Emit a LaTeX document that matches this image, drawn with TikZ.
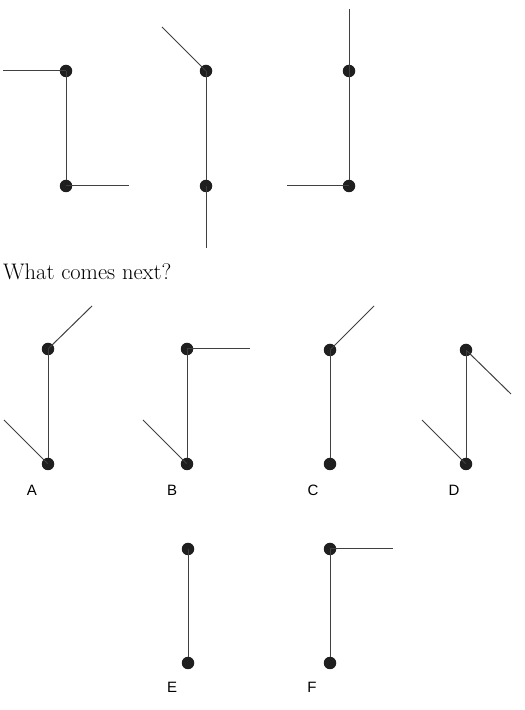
\documentclass[tikz,border=0pt]{standalone}
\usepackage{fontspec}
\newfontfamily\labelfont{Liberation Sans}
\usetikzlibrary{positioning}

\begin{document}
\begin{tikzpicture}[line join=bevel,
  pt/.style={circle,fill=black!88,inner sep=0pt,minimum size=12.5bp},
  stick/.style={draw=black!75,line width=1bp,shorten <=-6bp,shorten >=0bp},
  tag/.style={font=\labelfont\fontsize{15bp}{18bp}\selectfont,anchor=center}]
\useasboundingbox (0bp,0bp) rectangle (525bp,710bp);

% Series: first figure
\node[pt] (s1t) at (66bp,639bp) {};
\node[pt] (s1b) at (66bp,524bp) {};
\coordinate (s1l) at (3bp,639bp);
\coordinate (s1r) at (129bp,524bp);
\draw[stick] (s1t) -- (s1b);
\draw[stick] (s1t) -- (s1l);
\draw[stick] (s1b) -- (s1r);

% Series: second figure
\node[pt] (s2t) at (206bp,639bp) {};
\node[pt] (s2b) at (206bp,524bp) {};
\coordinate (s2d) at (162bp,683bp);
\coordinate (s2e) at (206bp,462bp);
\draw[stick] (s2t) -- (s2b);
\draw[stick] (s2t) -- (s2d);
\draw[stick] (s2b) -- (s2e);

% Series: third figure
\node[pt] (s3t) at (349bp,639bp) {};
\node[pt] (s3b) at (349bp,524bp) {};
\coordinate (s3u) at (349bp,701bp);
\coordinate (s3l) at (287bp,524bp);
\draw[stick] (s3t) -- (s3b);
\draw[stick] (s3t) -- (s3u);
\draw[stick] (s3b) -- (s3l);

\node[anchor=base west,inner sep=0pt,font=\fontsize{22.5bp}{26bp}\selectfont] (ask) at (3bp,430bp) {What comes next?};

% Option: A
\node[pt] (at) at (48bp,361bp) {};
\node[pt] (ab) at (48bp,246bp) {};
\coordinate (au) at (92bp,404bp);
\coordinate (al) at (4bp,290bp);
\draw[stick] (at) -- (ab);
\draw[stick] (at) -- (au);
\draw[stick] (ab) -- (al);
\node[tag] (la) at (32bp,220bp) {A};

% Option: B
\node[pt] (bt) at (187bp,361bp) {};
\node[pt] (bb) at (187bp,246bp) {};
\coordinate (br) at (250bp,361bp);
\coordinate (bl) at (143bp,290bp);
\draw[stick] (bt) -- (bb);
\draw[stick] (bt) -- (br);
\draw[stick] (bb) -- (bl);
\node[tag] (lb) at (172bp,220bp) {B};

% Option: C
\node[pt] (ct) at (330bp,360bp) {};
\node[pt] (cb) at (330bp,246bp) {};
\coordinate (cu) at (374bp,404bp);
\draw[stick] (ct) -- (cb);
\draw[stick] (ct) -- (cu);
\node[tag] (lc) at (313bp,220bp) {C};

% Option: D
\node[pt] (dt) at (466bp,360bp) {};
\node[pt] (db) at (466bp,246bp) {};
\coordinate (dr) at (511bp,316bp);
\coordinate (dl) at (422bp,290bp);
\draw[stick] (dt) -- (db);
\draw[stick] (dt) -- (dr);
\draw[stick] (db) -- (dl);
\node[tag] (ld) at (454bp,220bp) {D};

% Option: E
\node[pt] (et) at (188bp,161bp) {};
\node[pt] (eb) at (188bp,47bp) {};
\draw[stick] (et) -- (eb);
\node[tag] (le) at (172bp,23bp) {E};

% Option: F
\node[pt] (ft) at (330bp,161bp) {};
\node[pt] (fb) at (330bp,47bp) {};
\coordinate (fr) at (393bp,161bp);
\draw[stick] (ft) -- (fb);
\draw[stick] (ft) -- (fr);
\node[tag] (lf) at (312bp,23bp) {F};
%
\end{tikzpicture}
\end{document}
